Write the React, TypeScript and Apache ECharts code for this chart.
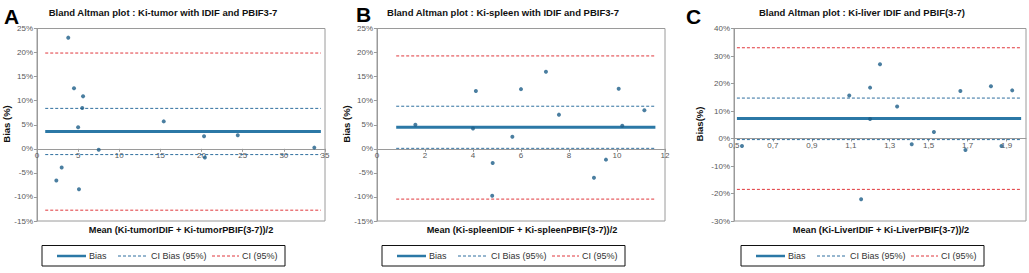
import React, { useEffect, useRef } from 'react';
import * as echarts from 'echarts';

// ---------- DATA ----------
// Panel A: Ki-tumor  [mean, bias %]
const tumorPoints: [number, number][] = [
  [3.8, 23.1], [4.5, 12.6], [5.6, 10.9], [5.5, 8.5], [5.0, 4.5], [15.4, 5.7],
  [20.3, 2.6], [24.4, 2.8], [33.7, 0.25], [7.5, -0.2], [20.4, -1.8], [3.0, -3.9],
  [2.35, -6.6], [5.1, -8.4],
];
const tumorBias = 3.6;
const tumorCiBias = [8.4, -1.2];
const tumorCi = [19.9, -12.75];
const tumorSpan = [1.0, 34.5];

// Panel B: Ki-spleen
const spleenPoints: [number, number][] = [
  [1.6, 5.0], [4.12, 12.0], [4.0, 4.2], [6.0, 12.4], [7.04, 16.0], [7.58, 7.1],
  [5.64, 2.5], [10.07, 12.5], [10.22, 4.8], [11.14, 8.0], [4.82, -2.95], [4.8, -9.75],
  [9.04, -6.0], [9.54, -2.25],
];
const spleenBias = 4.5;
const spleenCiBias = [8.85, 0.1];
const spleenCi = [19.3, -10.45];
const spleenSpan = [0.8, 11.6];

// Panel C: Ki-liver
const liverPoints: [number, number][] = [
  [1.092, 15.6], [1.199, 18.5], [1.199, 7.1], [1.25, 27.0], [1.338, 11.6], [1.527, 2.4],
  [1.663, 17.3], [1.82, 19.0], [1.929, 17.5], [0.541, -2.7], [1.153, -22.1], [1.413, -2.1],
  [1.689, -4.2], [1.874, -2.7],
];
const liverBias = 7.3;
const liverCiBias = [14.7, -0.4];
const liverCi = [33.0, -18.5];
const liverSpan = [0.515, 1.975];

// Axis ranges / ticks
const xRanges = [
  { min: 0, max: 35, interval: 5 },
  { min: 0, max: 12, interval: 2 },
  { min: 0.5, max: 2.0, interval: 0.2 },
];
const yRanges = [
  { min: -15, max: 25, interval: 5 },
  { min: -15, max: 25, interval: 5 },
  { min: -30, max: 40, interval: 10 },
];

// Texts
const panelLetters = ['A', 'B', 'C'];
const panelTitles = [
  'Bland Altman plot : Ki-tumor with IDIF and PBIF3-7',
  'Bland Altman plot : Ki-spleen with IDIF and PBIF3-7',
  'Bland Altman plot : Ki-liver IDIF and PBIF(3-7)',
];
const xNames = [
  'Mean (Ki-tumorIDIF + Ki-tumorPBIF(3-7))/2',
  'Mean (Ki-spleenIDIF + Ki-spleenPBIF(3-7))/2',
  'Mean (Ki-LiverIDIF + Ki-LiverPBIF(3-7))/2',
];
const yNames = ['Bias (%)', 'Bias (%)', 'Bias(%)'];
const legendNames = ['Bias', 'CI Bias (95%)', 'CI (95%)'];

// ---------- LAYOUT / STYLE ----------
const grids = [
  { left: 37, top: 28.5, width: 288, height: 192.5 },
  { left: 377, top: 28.5, width: 288, height: 192.5 },
  { left: 734, top: 28.5, width: 292, height: 192.5 },
];
const letterPos = [{ x: 4, y: 16 }, { x: 356, y: 14 }, { x: 686, y: 16 }];
const titleCenters = [163, 503, 862];
const xNameCenters = [181, 522, 881];
const yNameX = [6, 346, 699];
const legendOffsets = [0, 340, 699];

const C_POINT = '#1d5e88';
const C_BIAS = '#2b78a6';
const C_CIBIAS = '#2f6f9f';
const C_CI = '#e0373c';
const C_AXIS = '#9a9a9a';
const C_TICKTXT = '#595959';
const NARROW = '"Liberation Sans Narrow", "Liberation Sans", Arial, sans-serif';
const ARIAL = '"Liberation Sans", Arial, sans-serif';

export default function App() {
  const ref = useRef<HTMLDivElement>(null);
  useEffect(() => {
    document.body.style.margin = '0';
    if (!ref.current) return;
    const chart = echarts.init(ref.current, undefined, { renderer: 'svg' });

    const pts = [tumorPoints, spleenPoints, liverPoints];
    const biases = [tumorBias, spleenBias, liverBias];
    const ciBiases = [tumorCiBias, spleenCiBias, liverCiBias];
    const cis = [tumorCi, spleenCi, liverCi];
    const spans = [tumorSpan, spleenSpan, liverSpan];

    const series: any[] = [];
    const hLine = (i: number, y: number, color: string, width: number, type: any, name: string) => ({
      type: 'line',
      name,
      xAxisIndex: i,
      yAxisIndex: i,
      data: [[spans[i][0], y], [spans[i][1], y]],
      symbol: 'none',
      silent: true,
      lineStyle: { color, width, type },
      z: 3,
    });
    for (let i = 0; i < 3; i++) {
      series.push(hLine(i, cis[i][0], C_CI, 1, [3, 2], legendNames[2]));
      series.push(hLine(i, cis[i][1], C_CI, 1, [3, 2], legendNames[2]));
      series.push(hLine(i, ciBiases[i][0], C_CIBIAS, 1, [3, 2], legendNames[1]));
      series.push(hLine(i, ciBiases[i][1], C_CIBIAS, 1, [3, 2], legendNames[1]));
      series.push(hLine(i, biases[i], C_BIAS, 3, 'solid', legendNames[0]));
      series.push({
        type: 'scatter',
        xAxisIndex: i,
        yAxisIndex: i,
        data: pts[i],
        symbolSize: 4,
        itemStyle: { color: C_POINT },
        z: 5,
      });
    }

    const graphic: any[] = [];
    for (let i = 0; i < 3; i++) {
      graphic.push({
        type: 'text', x: letterPos[i].x, y: letterPos[i].y,
        style: { text: panelLetters[i], font: `bold 21px ${ARIAL}`, fill: '#000', textVerticalAlign: 'middle' },
      });
      graphic.push({
        type: 'text', x: titleCenters[i], y: 12,
        style: { text: panelTitles[i], font: `bold 9.5px ${NARROW}`, fill: '#111', textAlign: 'center', textVerticalAlign: 'middle' },
      });
      graphic.push({
        type: 'text', x: xNameCenters[i], y: 230,
        style: { text: xNames[i], font: `bold 9.2px ${ARIAL}`, fill: '#111', textAlign: 'center', textVerticalAlign: 'middle' },
      });
      graphic.push({
        type: 'text', x: yNameX[i], y: 124, rotation: Math.PI / 2,
        style: { text: yNames[i], font: `bold 9.5px ${ARIAL}`, fill: '#111', textAlign: 'center', textVerticalAlign: 'middle' },
      });
      const o = legendOffsets[i];
      const ly = 256;
      graphic.push({
        type: 'rect', shape: { x: 42 + o, y: 245.5, width: 243, height: 20.5 },
        style: { fill: '#fff', stroke: '#111', lineWidth: 1 },
      });
      graphic.push({ type: 'line', shape: { x1: 57 + o, y1: ly, x2: 86 + o, y2: ly }, style: { stroke: C_BIAS, lineWidth: 2.5 } });
      graphic.push({ type: 'text', x: 89 + o, y: ly, style: { text: legendNames[0], font: `9px ${NARROW}`, fill: '#333', textVerticalAlign: 'middle' } });
      graphic.push({ type: 'line', shape: { x1: 118 + o, y1: ly, x2: 148 + o, y2: ly }, style: { stroke: C_CIBIAS, lineWidth: 1, lineDash: [3, 2] } });
      graphic.push({ type: 'text', x: 151 + o, y: ly, style: { text: legendNames[1], font: `9px ${NARROW}`, fill: '#333', textVerticalAlign: 'middle' } });
      graphic.push({ type: 'line', shape: { x1: 212 + o, y1: ly, x2: 239 + o, y2: ly }, style: { stroke: C_CI, lineWidth: 1, lineDash: [3, 2] } });
      graphic.push({ type: 'text', x: 242 + o, y: ly, style: { text: legendNames[2], font: `9px ${NARROW}`, fill: '#333', textVerticalAlign: 'middle' } });
    }

    chart.setOption({
      animation: false,
      backgroundColor: '#fff',
      grid: grids.map((g) => ({ ...g, show: true, borderColor: C_AXIS, borderWidth: 1, backgroundColor: 'transparent' })),
      xAxis: xRanges.map((r, i) => ({
        gridIndex: i,
        type: 'value',
        min: r.min,
        max: r.max,
        interval: r.interval,
        position: 'bottom',
        // place the x axis at the y = 0 level of its grid
        offset: -grids[i].height * (0 - yRanges[i].min) / (yRanges[i].max - yRanges[i].min),
        axisLine: { show: true, onZero: false, lineStyle: { color: C_AXIS } },
        axisTick: { show: true, length: 3, lineStyle: { color: C_AXIS } },
        splitLine: { show: false },
        axisLabel: {
          fontSize: 8,
          fontFamily: NARROW,
          color: C_TICKTXT,
          margin: 3,
          showMaxLabel: i !== 2,
          formatter: i === 2 ? (v: number) => v.toFixed(1).replace('.', ',') : (v: number) => String(v),
        },
      })),
      yAxis: yRanges.map((r, i) => ({
        gridIndex: i,
        type: 'value',
        min: r.min,
        max: r.max,
        interval: r.interval,
        axisLine: { show: true, onZero: false, lineStyle: { color: C_AXIS } },
        axisTick: { show: true, length: 3, lineStyle: { color: C_AXIS } },
        splitLine: { show: false },
        axisLabel: { fontSize: 8, fontFamily: NARROW, color: C_TICKTXT, margin: 4, formatter: '{value}%' },
      })),
      series,
      graphic,
    });
    return () => chart.dispose();
  }, []);
  return <div ref={ref} style={{ width: 1029, height: 273 }} />;
}
